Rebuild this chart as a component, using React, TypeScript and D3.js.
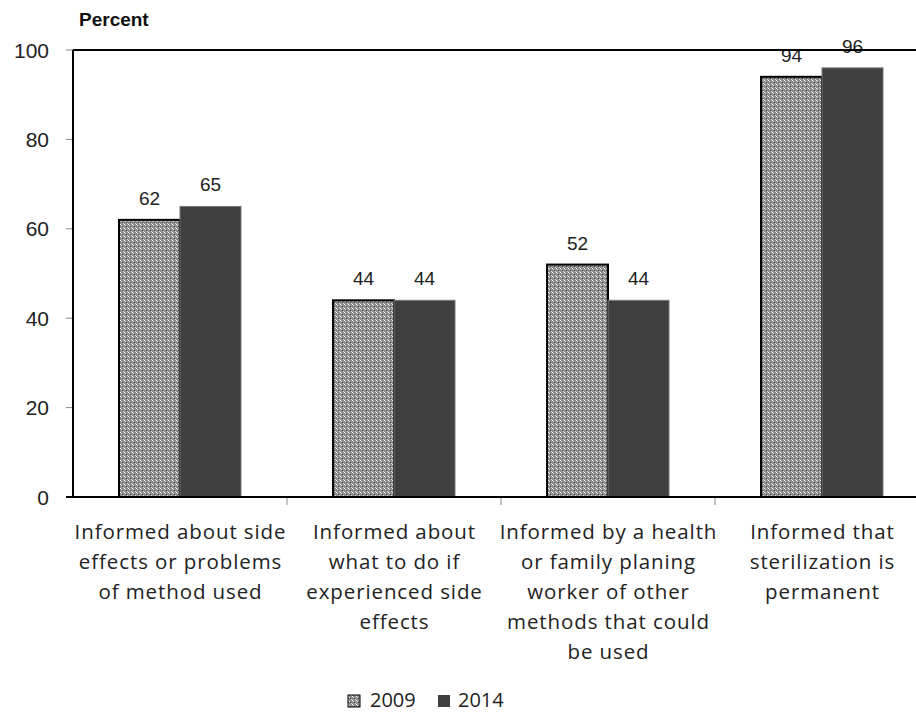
import React from "react";
import * as d3 from "d3";

const categories = [
  ["Informed about side", "effects or problems", "of method used"],
  ["Informed about", "what to do if", "experienced side", "effects"],
  ["Informed by a health", "or family planing", "worker of other", "methods that could", "be used"],
  ["Informed that", "sterilization is", "permanent"],
];
const series2009 = [62, 44, 52, 94];
const series2014 = [65, 44, 44, 96];
const yTicks = [0, 20, 40, 60, 80, 100];
const seriesNames = ["2009", "2014"];

export default function App() {
  const W = 916, H = 715;
  const left = 73, right = 929, top = 50, bottom = 497;
  const x = d3.scaleBand<number>().domain(d3.range(categories.length)).range([left, right]).paddingInner(0).paddingOuter(0);
  const y = d3.scaleLinear().domain([0, 100]).range([bottom, top]);
  const bw = 61;
  const arial = "Liberation Sans, Arial, sans-serif";
  const cal = "'Open Sans', Carlito, Calibri, sans-serif";
  return (
    <svg width={W} height={H} style={{ position: "absolute", left: 0, top: 0, background: "#fff" }}>
      <defs>
        <pattern id="pat" width="4" height="4" patternUnits="userSpaceOnUse">
          <rect width="4" height="4" fill="#8c8c8c" />
          <rect x="0" y="0" width="1" height="1" fill="#ffffff" />
          <rect x="1" y="1" width="1" height="1" fill="#d8d8d8" />
          <rect x="2" y="2" width="1" height="1" fill="#444" />
          <rect x="3" y="3" width="1" height="1" fill="#d8d8d8" />
        </pattern>
      </defs>
      <text x={79} y={26} fontFamily={arial} fontWeight="bold" fontSize={19} fill="#111">Percent</text>
      {yTicks.map((t) => (
        <g key={t}>
          <line x1={66} x2={left} y1={y(t)} y2={y(t)} stroke="#888" strokeWidth={1} />
          <text x={49} y={y(t)} dy="0.36em" textAnchor="end" fontFamily={arial} fontSize={21} fill="#222">{t}</text>
        </g>
      ))}
      {categories.map((c, i) => {
        const cx = x(i)! + x.bandwidth() / 2;
        return (
          <g key={i}>
            <rect x={cx - bw} y={y(series2009[i])} width={bw} height={bottom - y(series2009[i])} fill="url(#pat)" stroke="#000" strokeWidth={2} />
            <rect x={cx} y={y(series2014[i])} width={bw} height={bottom - y(series2014[i])} fill="#404040" stroke="#777" strokeWidth={1} />
            <text x={cx - bw / 2} y={y(series2009[i]) - 15} textAnchor="middle" fontFamily={arial} fontSize={19} fill="#222">{series2009[i]}</text>
            <text x={cx + bw / 2} y={y(series2014[i]) - 15} textAnchor="middle" fontFamily={arial} fontSize={19} fill="#222">{series2014[i]}</text>
            {c.map((line, j) => (
              <text key={j} x={cx + 0.5} y={539 + j * 30} textAnchor="middle" fontFamily={cal} fontSize={20.5} letterSpacing={0.9} fill="#222">{line}</text>
            ))}
          </g>
        );
      })}
      {d3.range(categories.length + 1).map((i) => {
        const tx = left + i * x.bandwidth();
        return i > 0 ? <line key={i} x1={tx} x2={tx} y1={bottom} y2={bottom + 8} stroke="#888" /> : null;
      })}
      <line x1={left} x2={W} y1={top} y2={top} stroke="#000" strokeWidth={2} />
      <line x1={left} x2={left} y1={top} y2={bottom} stroke="#000" strokeWidth={2} />
      <line x1={left - 7} x2={W} y1={bottom} y2={bottom} stroke="#000" strokeWidth={2} />
      <g>
        <rect x={348} y={695} width={12} height={12} fill="url(#pat)" stroke="#000" strokeWidth={1} />
        <text x={370} y={707} fontFamily={cal} fontSize={20} fill="#222">{seriesNames[0]}</text>
        <rect x={438} y={695} width={12} height={12} fill="#404040" />
        <text x={458} y={707} fontFamily={cal} fontSize={20} fill="#222">{seriesNames[1]}</text>
      </g>
    </svg>
  );
}
